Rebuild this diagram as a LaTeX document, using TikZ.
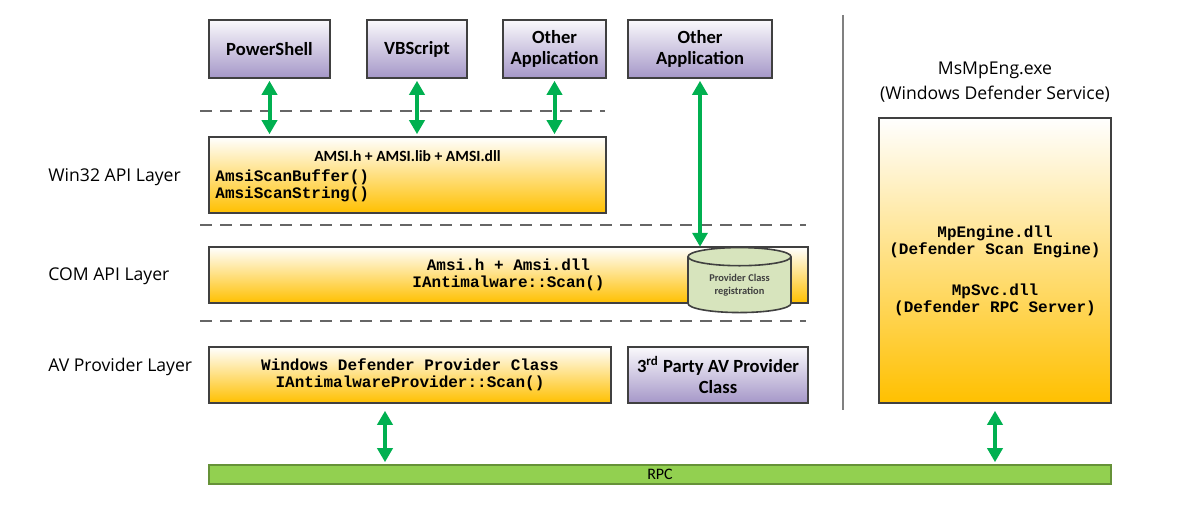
\documentclass[tikz,border=0pt]{standalone}
\usepackage{fontspec}
\setmainfont{Carlito}
\setmonofont{Liberation Mono}
\newfontfamily\uifont{Open Sans}
\usetikzlibrary{arrows.meta,shapes.geometric,calc}

\definecolor{appviolet}{HTML}{A597C8}
\definecolor{amber}{HTML}{FFC000}
\definecolor{arrowgreen}{HTML}{00B050}
\definecolor{rpcgreen}{HTML}{92D050}
\definecolor{cylgreen}{HTML}{D7E4BD}
\definecolor{edge}{HTML}{404040}

\begin{document}
\begin{tikzpicture}[%
      x=0.5pt, y=-0.5pt,
      appbox/.style={draw=edge, line width=0.8pt, top color=white!94!appviolet,
        bottom color=appviolet, inner sep=0pt, align=center,
        font=\bfseries\fontsize{9.3}{10.5}\selectfont},
      layerbox/.style={draw=edge, line width=0.8pt, top color=white,
        bottom color=amber, inner sep=0pt},
      code/.style={font=\ttfamily\bfseries\fontsize{8}{8.5}\selectfont, align=center},
      layer/.style={font=\uifont\fontsize{8.8}{10}\selectfont, anchor=west, inner sep=0pt},
      sep/.style={draw=edge!80, line width=1pt, dash pattern=on 6pt off 4pt},
      link/.style={draw=arrowgreen, line width=2pt,
        {Triangle[width=7.5pt,length=7pt]}-{Triangle[width=7.5pt,length=7pt]},
        shorten <=1pt, shorten >=1pt},
      ]
      \fill[white] (0,0) rectangle (1194,517);
      \useasboundingbox (0,0) rectangle (1194,517);

      % applications
      \node[appbox, minimum width=60.5pt, minimum height=29pt] (ps) at (269.5,49) {PowerShell};
      \node[appbox, minimum width=50pt, minimum height=29pt] (vbs) at (417,49) {VBScript};
      \node[appbox, minimum width=51.5pt, minimum height=29pt] (oapp) at (554.5,49) {Other\\Application};
      \node[appbox, minimum width=72pt, minimum height=29pt] (oapp2) at (700,49) {Other\\Application};

      % layers
      \draw[sep] (200,111) -- (605,111);
      \draw[sep] (200,225) -- (806,225);
      \draw[sep] (200,321) -- (806,321);

      \node[layer] (lwin) at (48,177) {Win32 API Layer};
      \node[layer] (lcom) at (48,276) {COM API Layer};
      \node[layer] (lav) at (48,367) {AV Provider Layer};

      \node[layerbox, minimum width=198.5pt, minimum height=38pt] (win) at (407.5,175) {};
      \node[font=\bfseries\fontsize{7.8}{8}\selectfont] (winhdr) at (407.5,156) {AMSI.h + AMSI.lib + AMSI.dll};
      \node[code, align=left, anchor=west, inner sep=0pt] (wincode) at (215,186) {AmsiScanBuffer()\\AmsiScanString()};

      \node[layerbox, code, minimum width=299.5pt, minimum height=28pt] (com) at (508.5,275)
        {Amsi.h + Amsi.dll\\IAntimalware::Scan()};
      \node[cylinder, shape border rotate=90, aspect=0.3, draw=edge, line width=0.8pt,
        fill=cylgreen, minimum width=51.5pt, minimum height=32.5pt, inner sep=0pt, align=center,
        font=\bfseries\fontsize{5.2}{6.5}\selectfont, text=edge] (reg) at (739.5,285)
        {Provider Class\\registration};

      \node[layerbox, code, minimum width=201pt, minimum height=28pt] (wdp) at (410,375)
        {Windows Defender Provider Class\\IAntimalwareProvider::Scan()};
      \node[appbox, minimum width=90pt, minimum height=28pt] (third) at (718,375)
        {3\textsuperscript{rd} Party AV Provider\\Class};

      % defender service
      \draw[gray, line width=1pt] (843,15) -- (843,410);
      \node[font=\uifont\fontsize{8.8}{12.5}\selectfont, align=center] (svc) at (995,82)
        {MsMpEng.exe\\(Windows Defender Service)};
      \node[layerbox, minimum width=116pt, minimum height=142.5pt] (mp) at (995,260.5) {};
      \node[code] (mpeng) at (995,242) {MpEngine.dll\\(Defender Scan Engine)};
      \node[code] (mpsvc) at (995,299.5) {MpSvc.dll\\(Defender RPC Server)};

      \node[draw=rpcgreen!70!black, line width=0.8pt, fill=rpcgreen, minimum width=451pt,
        minimum height=9.5pt, inner sep=0pt, font=\fontsize{8}{8}\selectfont] (rpc) at (660,474.5) {RPC};

      % arrows
      \draw[link] (ps.south) -- (ps.south |- win.north);
      \draw[link] (vbs.south) -- (vbs.south |- win.north);
      \draw[link] (oapp.south) -- (oapp.south |- win.north);
      \draw[link, shorten >=0pt] (oapp2.south) -- (oapp2.south |- reg.north);
      \coordinate (wdparr) at ($(wdp.south)+(-25,0)$);
      \draw[link, shorten <=3.5pt] (wdparr) -- (wdparr |- rpc.north);
      \draw[link, shorten <=3.5pt] (mp.south) -- (mp.south |- rpc.north);
\end{tikzpicture}
\end{document}
